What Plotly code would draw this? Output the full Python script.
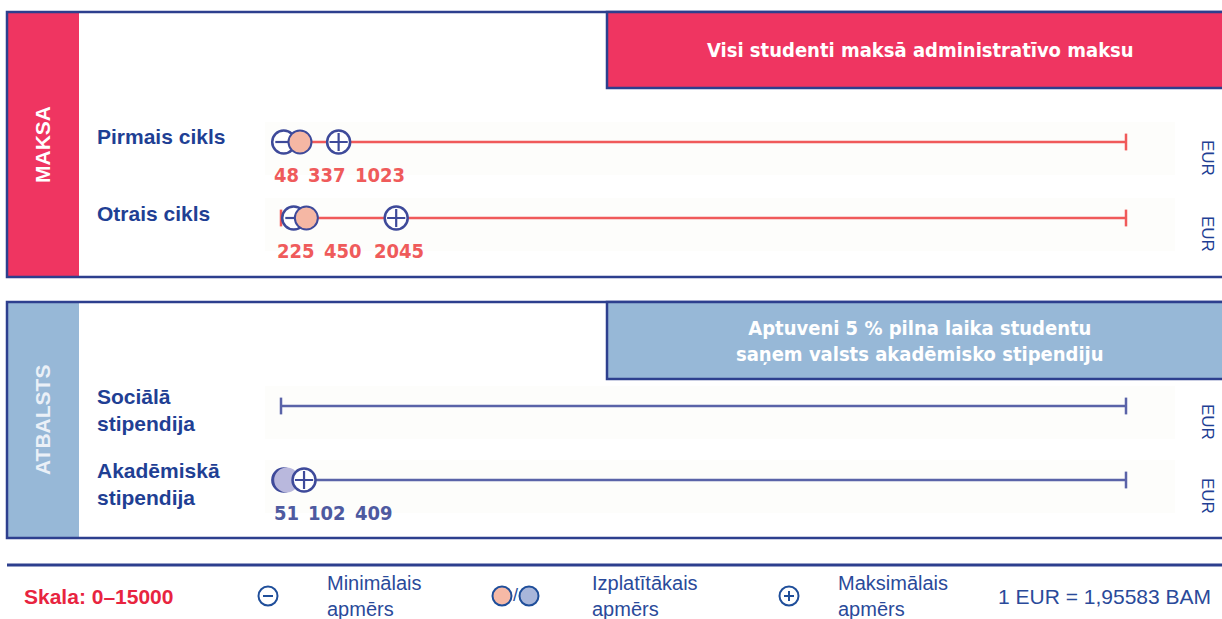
import plotly.graph_objects as go

# ---- data -------------------------------------------------------------
row_labels = ["Pirmais cikls", "Otrais cikls", "Sociālā<br>stipendija", "Akadēmiskā<br>stipendija"]
min_vals = [48, 225, None, 51]          # minimālais apmērs
typical_vals = [337, 450, None, 102]    # izplatītākais apmērs
max_vals = [1023, 2045, None, 409]      # maksimālais apmērs
scale_min, scale_max = 0, 15000
currency = "EUR"

fee_title = "Visi studenti maksā administratīvo maksu"
support_title = "Aptuveni 5 % pilna laika studentu<br>saņem valsts akadēmisko stipendiju"
legend_scale = "Skala: 0–15000"
legend_min = "Minimālais<br>apmērs"
legend_typ = "Izplatītākais<br>apmērs"
legend_max = "Maksimālais<br>apmērs"
exchange = "1 EUR = 1,95583 BAM"

# ---- geometry / styling ----------------------------------------------
W, H = 1222, 619
X0_PX, X1_PX = 281, 1126                 # where the 0 and 15000 of the scale sit
row_y = [142, 218, 406, 480]             # row centre lines (pixels from top)
label_y = [175, 251, None, 513]
row_panel = [0, 0, 1, 1]

RED = "#EF3561"
LBLUE = "#97B8D7"
NAVY = "#2D3F8E"
TXT = "#1F3F94"
FEE_LINE = "#F05A5A"
SUP_LINE = "#5A63A8"
OUTLINE = "#3E4A9A"
NARROW = "DejaVu Sans Condensed, Liberation Sans"
SANS = "Liberation Sans"

unit = (X1_PX - X0_PX) / (scale_max - scale_min)
x_range = [scale_min - X0_PX / unit, scale_min + (W - X0_PX) / unit]


def px(x):
    return x / W


def py(y):
    return 1 - y / H


def to_px(v):
    return X0_PX + (v - scale_min) * unit


def note(x, y, text, size, color, family=SANS, xanchor="center", angle=0, align="center"):
    return dict(xref="paper", yref="paper", x=px(x), y=py(y), xanchor=xanchor,
                yanchor="middle", text=text, textangle=angle, showarrow=False, align=align,
                font=dict(family=family, size=size, color=color))


fig = go.Figure()
shapes = []
ann = []

# panels
panels = [(12, 277, RED, "MAKSA", "#FFFFFF", 88, fee_title, 50, 145),
          (302, 538, LBLUE, "ATBALSTS", "#EAF0F7", 379, support_title, 341, 420)]
for top, bot, col, name, ncol, box_bot, title, ty, ny in panels:
    shapes.append(dict(type="rect", xref="paper", yref="paper", x0=px(7), x1=px(79),
                       y0=py(bot), y1=py(top), fillcolor=col, line_width=0, layer="below"))
    shapes.append(dict(type="rect", xref="paper", yref="paper", x0=px(7), x1=px(1240),
                       y0=py(bot), y1=py(top), fillcolor="rgba(0,0,0,0)",
                       line=dict(color=NAVY, width=2.5)))
    shapes.append(dict(type="rect", xref="paper", yref="paper", x0=px(607), x1=px(1240),
                       y0=py(box_bot), y1=py(top), fillcolor=col,
                       line=dict(color=NAVY, width=2.5)))
    ann.append(note(43, ny, f"<b>{name}</b>", 21, ncol, angle=-90))
    ann.append(note(920, ty, f"<b>{title}</b>", 20, "#FFFFFF", family=NARROW))

# faint row backgrounds
for y in row_y:
    shapes.append(dict(type="rect", xref="paper", yref="paper", x0=px(265), x1=px(1175),
                       y0=py(y + 33), y1=py(y - 20), fillcolor="#FDFDFB", line_width=0,
                       layer="below"))

# rows
for i, lab in enumerate(row_labels):
    y = row_y[i]
    fee = row_panel[i] == 0
    lcol = FEE_LINE if fee else SUP_LINE
    multi = "<br>" in lab
    ann.append(note(95, y - 5 if not multi else y + 4, f"<b>{lab}</b>", 21, TXT,
                    xanchor="left", align="left"))
    ann.append(note(1208, y + 16, currency, 17, TXT, angle=90))
    # scale line with end ticks
    fig.add_trace(go.Scatter(x=[scale_min, scale_max], y=[y, y], mode="lines+markers",
                             line=dict(color=lcol, width=2.5),
                             marker=dict(symbol="line-ns", size=12,
                                         line=dict(color=lcol, width=2.5)),
                             hoverinfo="skip", cliponaxis=False))
    if min_vals[i] is None:
        continue
    vmin, vtyp, vmax = min_vals[i], typical_vals[i], max_vals[i]
    if fee:
        min_fill, typ_fill, typ_line = "#FFFFFF", "#F5B7A4", OUTLINE
        num_col = "#EF5B5B"
    else:
        min_fill, typ_fill, typ_line = "#5C5FA8", "#B9B8DD", "#B9B8DD"
        num_col = "#4E5AA0"
    # minimum
    fig.add_trace(go.Scatter(x=[vmin], y=[y], mode="markers", cliponaxis=False,
                             marker=dict(symbol="circle", size=23, color=min_fill,
                                         line=dict(color=OUTLINE, width=2.5))))
    fig.add_trace(go.Scatter(x=[vmin], y=[y], mode="markers", cliponaxis=False,
                             marker=dict(symbol="line-ew", size=12,
                                         line=dict(color=OUTLINE, width=2.2))))
    # most common
    fig.add_trace(go.Scatter(x=[vtyp], y=[y], mode="markers", cliponaxis=False,
                             marker=dict(symbol="circle", size=23, color=typ_fill,
                                         line=dict(color=typ_line, width=2))))
    # maximum
    fig.add_trace(go.Scatter(x=[vmax], y=[y], mode="markers", cliponaxis=False,
                             marker=dict(symbol="circle", size=23, color="#FFFFFF",
                                         line=dict(color=OUTLINE, width=2.5))))
    fig.add_trace(go.Scatter(x=[vmax], y=[y], mode="markers", cliponaxis=False,
                             marker=dict(symbol="cross-thin", size=13,
                                         line=dict(color=OUTLINE, width=2.2))))
    # value labels, kept apart so they do not overlap
    right = -1e9
    digit_w = 12.2
    for v in (vmin, vtyp, vmax):
        w = digit_w * len(str(v))
        left = max(to_px(v) - w / 2, right + 10)
        ann.append(note(left, label_y[i], f"<b>{v}</b>", 20, num_col, family=NARROW,
                        xanchor="left"))
        right = left + w

# ---- legend strip -------------------------------------------------------
shapes.append(dict(type="line", xref="paper", yref="paper", x0=px(7), x1=px(1222),
                   y0=py(565), y1=py(565), line=dict(color=NAVY, width=3)))
LY = 596
ann.append(note(22, LY, f"<b>{legend_scale}</b>", 21, "#E8243F", xanchor="left"))


def circ(cx, cy, r, fill, line_col, lw=2):
    shapes.append(dict(type="circle", xref="paper", yref="paper", x0=px(cx - r), x1=px(cx + r),
                       y0=py(cy + r), y1=py(cy - r), fillcolor=fill,
                       line=dict(color=line_col, width=lw)))


LEG_BLUE = "#1F4E9A"
circ(268, LY, 9.5, "#FFFFFF", LEG_BLUE)
shapes.append(dict(type="line", xref="paper", yref="paper", x0=px(263), x1=px(273),
                   y0=py(LY), y1=py(LY), line=dict(color=LEG_BLUE, width=2)))
circ(502, LY, 9.5, "#F6B9A6", LEG_BLUE)
ann.append(note(515.5, LY - 1, "/", 18, LEG_BLUE))
circ(529, LY, 9.5, "#A9B6DA", LEG_BLUE)
circ(789, LY, 9.5, "#FFFFFF", LEG_BLUE)
shapes.append(dict(type="line", xref="paper", yref="paper", x0=px(784), x1=px(794),
                   y0=py(LY), y1=py(LY), line=dict(color=LEG_BLUE, width=2)))
shapes.append(dict(type="line", xref="paper", yref="paper", x0=px(789), x1=px(789),
                   y0=py(LY + 5), y1=py(LY - 5), line=dict(color=LEG_BLUE, width=2)))

for xl, t in ((325, legend_min), (590, legend_typ), (836, legend_max)):
    ann.append(note(xl, LY, t, 20, "#2A4A9A", xanchor="left", align="left"))
ann.append(note(996, LY, exchange, 21, "#2A4A9A", xanchor="left"))

fig.update_layout(
    width=W, height=H, margin=dict(l=0, r=0, t=0, b=0),
    paper_bgcolor="#FFFFFF", plot_bgcolor="rgba(0,0,0,0)",
    showlegend=False, shapes=shapes, annotations=ann,
    xaxis=dict(range=x_range, domain=[0, 1], visible=False, fixedrange=True),
    yaxis=dict(range=[H, 0], domain=[0, 1], visible=False, fixedrange=True),
)

fig.write_html("out.html")
